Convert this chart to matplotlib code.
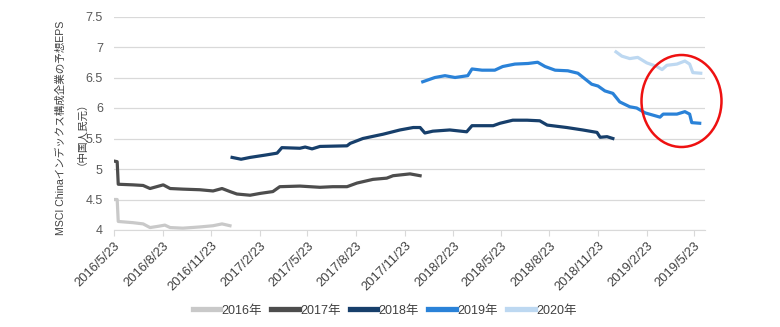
import pandas as pd
import matplotlib
matplotlib.use('Agg')
from matplotlib import pyplot as plt
from matplotlib.patches import Ellipse

plt.rcParams['font.family'] = ['Liberation Sans', 'Noto Sans CJK JP', 'DejaVu Sans']

# consensus EPS forecasts for each fiscal year (CNY)
dates_2016 = ['2016-05-23', '2016-05-29', '2016-05-31', '2016-06-28', '2016-07-17', '2016-07-30',
              '2016-08-14', '2016-08-27', '2016-09-06', '2016-09-30', '2016-11-01', '2016-11-26',
              '2016-12-13', '2016-12-28']
eps_2016 = [4.50, 4.50, 4.14, 4.12, 4.10, 4.04, 4.06, 4.08, 4.04, 4.03, 4.05, 4.07, 4.10, 4.07]

dates_2017 = ['2016-05-23', '2016-05-29', '2016-05-31', '2016-06-28', '2016-07-17', '2016-07-30',
              '2016-08-24', '2016-09-06', '2016-09-30', '2016-11-01', '2016-11-26', '2016-12-13',
              '2016-12-28', '2017-01-10', '2017-02-04', '2017-02-23', '2017-03-19', '2017-04-01',
              '2017-05-09', '2017-06-16', '2017-07-10', '2017-08-06', '2017-08-25', '2017-09-24',
              '2017-10-20', '2017-11-01', '2017-12-03', '2017-12-22']
eps_2017 = [5.13, 5.12, 4.75, 4.74, 4.73, 4.68, 4.74, 4.68, 4.67, 4.66, 4.64, 4.68,
            4.63, 4.59, 4.57, 4.60, 4.63, 4.71, 4.72, 4.70, 4.71, 4.71, 4.77, 4.83,
            4.85, 4.89, 4.92, 4.89]

dates_2018 = ['2017-01-01', '2017-01-18', '2017-02-04', '2017-03-06', '2017-03-27', '2017-04-05',
              '2017-05-09', '2017-05-19', '2017-06-01', '2017-06-16', '2017-08-06', '2017-08-12',
              '2017-09-05', '2017-10-02', '2017-10-13', '2017-11-14', '2017-12-09', '2017-12-22',
              '2017-12-31', '2018-01-15', '2018-02-16', '2018-03-20', '2018-03-30', '2018-05-09',
              '2018-05-22', '2018-06-15', '2018-07-12', '2018-08-05', '2018-08-19', '2018-09-25',
              '2018-10-25', '2018-11-21', '2018-11-27', '2018-12-10', '2018-12-21']
eps_2018 = [5.19, 5.16, 5.19, 5.23, 5.26, 5.35, 5.34, 5.36, 5.33, 5.37, 5.38, 5.42,
            5.50, 5.55, 5.57, 5.64, 5.68, 5.68, 5.59, 5.62, 5.64, 5.61, 5.71, 5.71,
            5.75, 5.80, 5.80, 5.79, 5.72, 5.68, 5.64, 5.60, 5.52, 5.53, 5.50]

dates_2019 = ['2017-12-27', '2018-01-19', '2018-02-07', '2018-02-26', '2018-03-22', '2018-03-30',
              '2018-04-18', '2018-05-12', '2018-05-27', '2018-06-19', '2018-07-14', '2018-08-01',
              '2018-08-15', '2018-09-03', '2018-09-27', '2018-10-16', '2018-10-29', '2018-11-11',
              '2018-11-23', '2018-12-06', '2018-12-21', '2019-01-03', '2019-01-22', '2019-02-04',
              '2019-02-20', '2019-03-20', '2019-03-26', '2019-04-21', '2019-05-06', '2019-05-15',
              '2019-05-19', '2019-06-03']
eps_2019 = [6.43, 6.50, 6.53, 6.50, 6.53, 6.64, 6.62, 6.62, 6.68, 6.72, 6.73, 6.75,
            6.68, 6.62, 6.61, 6.57, 6.48, 6.39, 6.36, 6.28, 6.24, 6.10, 6.02, 6.00,
            5.92, 5.85, 5.90, 5.90, 5.94, 5.90, 5.76, 5.75]

dates_2020 = ['2018-12-27', '2019-01-07', '2019-01-22', '2019-02-06', '2019-02-23', '2019-03-14',
              '2019-03-24', '2019-04-02', '2019-04-21', '2019-05-06', '2019-05-15', '2019-05-21',
              '2019-06-05']
eps_2020 = [6.92, 6.85, 6.81, 6.83, 6.74, 6.68, 6.63, 6.70, 6.72, 6.77, 6.72, 6.58, 6.57]

tick_dates = ['2016-05-23', '2016-08-23', '2016-11-23', '2017-02-23', '2017-05-23', '2017-08-23',
              '2017-11-23', '2018-02-23', '2018-05-23', '2018-08-23', '2018-11-23', '2019-02-23',
              '2019-05-23']

series = [
    ('2016年', dates_2016, eps_2016, '#c9c9c9'),
    ('2017年', dates_2017, eps_2017, '#4d4d4d'),
    ('2018年', dates_2018, eps_2018, '#173f6b'),
    ('2019年', dates_2019, eps_2019, '#2a82d8'),
    ('2020年', dates_2020, eps_2020, '#bdd8f1'),
]

fig = plt.figure(figsize=(7.8, 3.27), dpi=100)
ax = fig.add_axes([114 / 780, 97 / 327, 591 / 780, 213.5 / 327])

for name, d, v, c in series:
    ax.plot(pd.to_datetime(d), v, color=c, lw=2.3, label=name, solid_joinstyle='round')

ticks = pd.to_datetime(tick_dates)
ax.set_xticks(ticks)
ax.set_xticklabels(['%d/%d/%d' % (t.year, t.month, t.day) for t in ticks],
                   rotation=45, ha='right', rotation_mode='anchor', fontsize=9.3, color='#404040')
ax.set_xlim(pd.Timestamp('2016-05-23'), pd.Timestamp('2019-06-13'))

ax.set_ylim(4, 7.5)
ax.set_yticks([4, 4.5, 5, 5.5, 6, 6.5, 7, 7.5])
ax.set_yticklabels(['4', '4.5', '5', '5.5', '6', '6.5', '7', '7.5'], fontsize=9, color='#595959')
ax.yaxis.grid(True, color='#d9d9d9', lw=0.9)
ax.set_axisbelow(True)

for s in ['left', 'right', 'top']:
    ax.spines[s].set_visible(False)
ax.spines['bottom'].set_color('#d9d9d9')
ax.tick_params(axis='y', length=0, pad=8)
ax.tick_params(axis='x', length=4, color='#d9d9d9', pad=3)

fig.text(61 / 780, 1 - 128 / 327, 'MSCI Chinaインデックス構成企業の予想EPS', rotation=90,
         ha='center', va='center', fontsize=7.6, color='#404040')
fig.text(76 / 780, 1 - 128 / 327, '（中国人民元）', rotation=90,
         ha='center', va='center', fontsize=7.6, color='#404040')

# red circle around the latest revisions
fig.patches.append(Ellipse((681.5 / 780, 1 - 101 / 327), 80 / 780, 92 / 327,
                           transform=fig.transFigure, fill=False, ec='#ee1111', lw=1.8))

leg = fig.legend(loc='center', bbox_to_anchor=(0.493, 0.05), ncol=5, frameon=False,
                 fontsize=9, handlelength=2.2, handletextpad=0.1, columnspacing=0.75)
for t in leg.get_texts():
    t.set_color('#404040')
for h in leg.get_lines():
    h.set_linewidth(3.8)

fig.savefig('out.png', dpi=100)
